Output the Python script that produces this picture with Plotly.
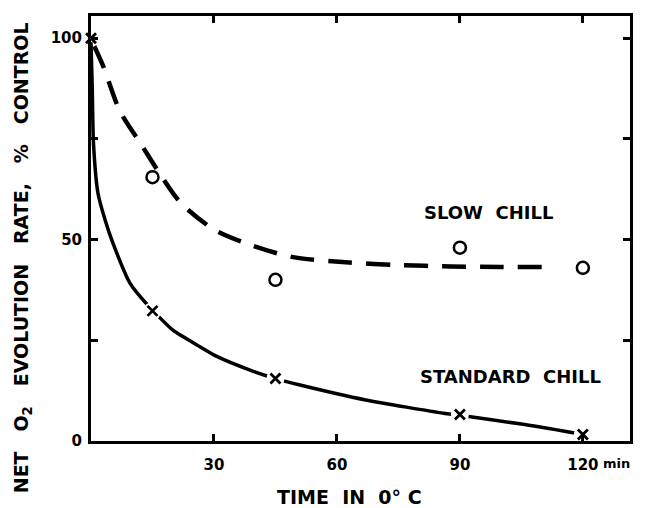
import plotly.graph_objects as go

# Measured points
slow_x = [15, 45, 90, 120]
slow_y = [65.5, 40, 48, 43]
std_x = [0, 15, 45, 90, 120]
std_y = [100, 32.3, 15.5, 6.6, 1.6]

# Hand-drawn fitted curves
slow_curve_x = [0.8, 3, 7, 12, 17, 22, 30, 38, 49, 63, 75, 88, 100, 113]
slow_curve_y = [98, 93, 82, 74, 66, 59, 52.5, 49, 45.7, 44.3, 43.7, 43.3, 43.2, 43.2]
std_curve_x = [0, 0.3, 0.6, 1.7, 3.4, 5.4, 9.5, 13.6, 20, 26.6, 30.7, 38.8, 45, 51, 67, 86, 90, 105, 118]
std_curve_y = [99, 88, 74, 61.5, 55, 49, 39.2, 34, 27.5, 23.4, 21, 17.6, 15.5, 13.9, 10.2, 6.9, 6.4, 4.2, 2]

x_ticks = [30, 60, 90, 120]
x_tick_labels = ["30", "60", "90", "120"]
y_ticks = [0, 25, 50, 75, 100]
y_tick_labels = ["0", "", "50", "", "100"]

FONT = "DejaVu Sans"
NB = "\u00a0"
S2 = NB * 2
S3 = NB * 3

fig = go.Figure()

fig.add_trace(go.Scatter(x=slow_curve_x, y=slow_curve_y, mode="lines",
                         line=dict(color="black", width=4.5, dash="24px,14px", shape="spline", smoothing=0.8),
                         hoverinfo="skip", showlegend=False))
fig.add_trace(go.Scatter(x=std_curve_x, y=std_curve_y, mode="lines",
                         line=dict(color="black", width=3.5, shape="spline", smoothing=0.6),
                         hoverinfo="skip", showlegend=False))
# white gaps around X markers
fig.add_trace(go.Scatter(x=std_x[1:], y=std_y[1:], mode="markers",
                         marker=dict(symbol="circle", size=18, color="white", line=dict(width=0)),
                         hoverinfo="skip", showlegend=False))
fig.add_trace(go.Scatter(x=slow_x, y=slow_y, mode="markers", name="Slow chill",
                         marker=dict(symbol="circle-open", size=12, color="black", line=dict(width=2.5)),
                         showlegend=False, cliponaxis=False))
fig.add_trace(go.Scatter(x=std_x, y=std_y, mode="markers", name="Standard chill",
                         marker=dict(symbol="x-thin-open", size=10, color="black", line=dict(width=2.8)),
                         showlegend=False, cliponaxis=False))

fig.add_annotation(x=97, y=56.8, xref="x", yref="y", text=f"SLOW{S2}CHILL",
                   showarrow=False, font=dict(family=FONT, size=18, color="black", weight="bold"))
fig.add_annotation(x=102.4, y=15.9, xref="x", yref="y", text=f"STANDARD{S2}CHILL",
                   showarrow=False, font=dict(family=FONT, size=18, color="black", weight="bold"))
fig.add_annotation(x=120, y=0, xref="x", yref="y", text="min", xanchor="left", yanchor="top",
                   xshift=18, yshift=-13, showarrow=False,
                   font=dict(family=FONT, size=13, color="black", weight="bold"))

ytitle = f"NET{S3}O<sub>2</sub>{S3}EVOLUTION{S3}RATE,{S3}%{S3}CONTROL"
fig.add_annotation(x=-0.128, y=0.43, xref="paper", yref="paper", text=ytitle, textangle=-90,
                   showarrow=False, xanchor="center", yanchor="middle",
                   font=dict(family=FONT, size=19, color="black", weight="bold"))
fig.add_annotation(x=0.4805, y=-0.132, xref="paper", yref="paper", text=f"TIME{S2}IN{S2}0°{NB}C",
                   showarrow=False, xanchor="center", yanchor="middle",
                   font=dict(family=FONT, size=19, color="black", weight="bold"))

axis_common = dict(showline=True, linecolor="black", linewidth=3, mirror="ticks",
                   ticks="inside", ticklen=7, tickwidth=2.5, tickcolor="black",
                   showgrid=False, zeroline=False,
                   tickfont=dict(family=FONT, size=15, color="black", weight="bold"))

fig.update_xaxes(range=[0, 131.5], tickvals=x_ticks, ticktext=x_tick_labels,
                 ticklabelstandoff=8, **axis_common)
fig.update_yaxes(range=[0, 105.5], tickvals=y_ticks, ticktext=y_tick_labels,
                 ticklabelstandoff=3, **axis_common)

fig.update_layout(width=646, height=508, margin=dict(l=91, r=16, t=16, b=67),
                  plot_bgcolor="white", paper_bgcolor="white")

fig.write_html("out.html", config={"displayModeBar": False},
               post_script="document.body.style.margin='0';")
